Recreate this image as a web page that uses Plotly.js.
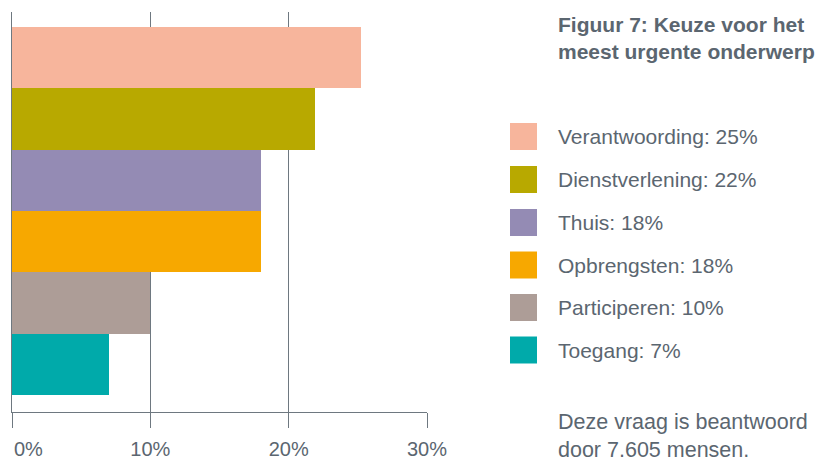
<!DOCTYPE html>
<html>
<head>
<meta charset="utf-8">
<script src="https://cdn.plot.ly/plotly-3.0.1.min.js"></script>
<style>html,body{margin:0;padding:0;background:#fff;}#chart{width:827px;height:461px;}</style>
</head>
<body>
<div id="chart"></div>
<script>
// ---- data ----
var categories = ['Verantwoording', 'Dienstverlening', 'Thuis', 'Opbrengsten', 'Participeren', 'Toegang'];
var values = [25.2, 21.9, 18.0, 18.0, 10.0, 7.0];
var legendPct = [25, 22, 18, 18, 10, 7];
var tickVals = [0, 10, 20, 30];
var tickLabels = ['0%', '10%', '20%', '30%'];
var titleLines = ['Figuur 7: Keuze voor het', 'meest urgente onderwerp'];
var noteLines = ['Deze vraag is beantwoord', 'door 7.605 mensen.'];

// ---- styles ----
var colors = ['#F7B59C', '#B8A900', '#948BB4', '#F7A800', '#AD9D97', '#00AAAA'];
var textColor = '#5B6670';
var gridColor = '#6E7880';
var FONT = '"Liberation Sans", Arial, Helvetica, sans-serif';

// plot area in pixels
var L = 12, T = 12, W = 415, H = 400;
function px(x) { return (x - L) / W; }
function py(y) { return (T + H - y) / H; }

var trace = {
  type: 'bar',
  orientation: 'h',
  y: categories,
  x: values,
  width: 1,
  marker: {color: colors, line: {width: 0}},
  hoverinfo: 'skip',
  showlegend: false
};

var shapes = [];
var annotations = [];
var legendY = [136.5, 179.5, 222.5, 265, 307.5, 350];
categories.forEach(function (c, i) {
  var cy = legendY[i];
  shapes.push({type: 'rect', xref: 'paper', yref: 'paper',
    x0: px(510), x1: px(537), y0: py(cy + 13.5), y1: py(cy - 13.5),
    fillcolor: colors[i], line: {width: 0}});
  annotations.push({xref: 'paper', yref: 'paper', x: px(556), y: py(cy),
    xanchor: 'left', yanchor: 'middle', showarrow: false,
    text: c + ': ' + legendPct[i] + '%',
    font: {family: FONT, size: 21, color: textColor}});
});
var titleY = [24, 52];
titleLines.forEach(function (t, i) {
  annotations.push({xref: 'paper', yref: 'paper', x: px(556), y: py(titleY[i]),
    xanchor: 'left', yanchor: 'middle', showarrow: false,
    text: '<b>' + t + '</b>',
    font: {family: FONT, size: 21, color: textColor}});
});
var noteY = [422, 450];
noteLines.forEach(function (t, i) {
  annotations.push({xref: 'paper', yref: 'paper', x: px(556), y: py(noteY[i]),
    xanchor: 'left', yanchor: 'middle', showarrow: false,
    text: t,
    font: {family: FONT, size: 21.5, color: textColor}});
});
// first tick label is left-aligned at the axis start in the reference
annotations.push({xref: 'x', yref: 'paper', x: tickVals[0], y: py(449),
  xanchor: 'left', yanchor: 'middle', showarrow: false,
  text: tickLabels[0],
  font: {family: FONT, size: 20, color: textColor}});

var tickText = tickLabels.map(function (t, i) { return i === 0 ? '' : t; });

var layout = {
  width: 827, height: 461,
  margin: {l: L, r: 827 - L - W, t: T, b: 461 - T - H, pad: 0},
  paper_bgcolor: '#ffffff',
  plot_bgcolor: '#ffffff',
  showlegend: false,
  bargap: 0,
  xaxis: {
    range: [0, 30],
    tickmode: 'array', tickvals: tickVals, ticktext: tickText,
    showgrid: true, gridcolor: gridColor, gridwidth: 1,
    zeroline: false,
    showline: true, linecolor: gridColor, linewidth: 1,
    ticks: 'outside', ticklen: 15, tickwidth: 1, tickcolor: gridColor,
    ticklabelstandoff: 4,
    tickfont: {family: FONT, size: 20, color: textColor},
    fixedrange: true
  },
  yaxis: {
    type: 'category',
    range: [5.777, -0.745],
    showticklabels: false,
    ticks: '',
    showgrid: false,
    zeroline: false,
    showline: true, linecolor: gridColor, linewidth: 1,
    fixedrange: true
  },
  shapes: shapes,
  annotations: annotations
};

Plotly.newPlot('chart', [trace], layout, {displayModeBar: false, staticPlot: true});
</script>
</body>
</html>
